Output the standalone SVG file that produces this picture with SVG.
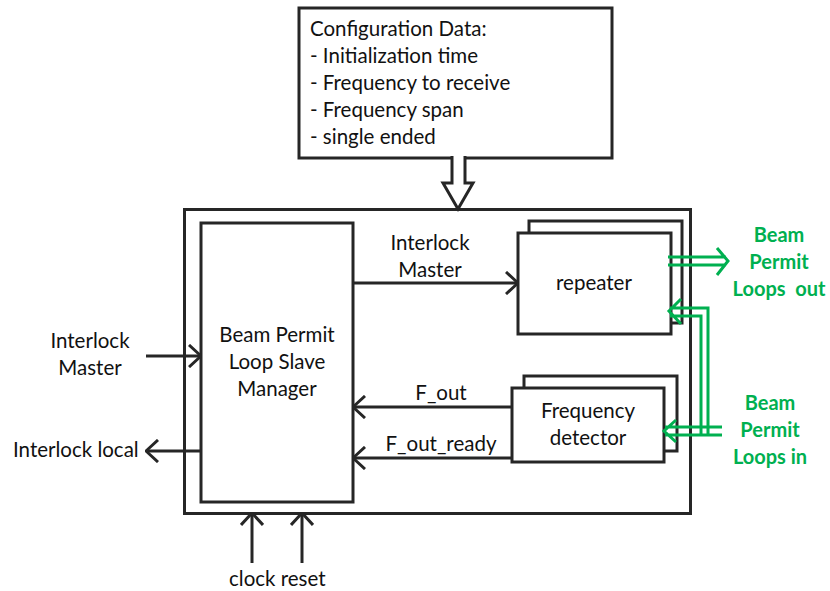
<svg xmlns="http://www.w3.org/2000/svg" width="830" height="591" viewBox="0 0 830 591">
<defs>
<style>
.box{fill:#fff;stroke:#262626;stroke-width:3}
.ln{fill:none;stroke:#262626;stroke-width:3}
.gl{fill:none;stroke:#00B050;stroke-width:3}
.t{font-family:Lato,"Liberation Sans",Arial,sans-serif;font-size:20.5px;fill:#111}
.g{font-family:Lato,"Liberation Sans",Arial,sans-serif;font-size:20px;font-weight:bold;fill:#00B050}
</style>
<marker id="ah" viewBox="0 0 14 24" refX="13" refY="12" markerWidth="14" markerHeight="24" markerUnits="userSpaceOnUse" orient="auto">
<path d="M1,1 L13,12 L1,23" fill="none" stroke="#262626" stroke-width="3"/>
</marker>
</defs>
<rect width="830" height="591" fill="#fff"/>
<g id="outer"><rect class="box" x="184.5" y="209.5" width="506" height="304"/></g>
<g id="config">
<rect class="box" x="299" y="8" width="313" height="150"/>
<path class="box" d="M452,156 V183 H443 L458,209 L473,183 H465 V156" />
<text class="t" x="310" y="36">Configuration Data:</text>
<text class="t" x="310" y="63">- Initialization time</text>
<text class="t" x="310" y="90">- Frequency to receive</text>
<text class="t" x="310" y="117">- Frequency span</text>
<text class="t" x="310" y="144">- single ended</text>
</g>
<g id="manager">
<rect class="box" x="201" y="223" width="152" height="279"/>
<text class="t" x="277" y="342" text-anchor="middle">Beam Permit</text>
<text class="t" x="277" y="369" text-anchor="middle">Loop Slave</text>
<text class="t" x="277" y="396" text-anchor="middle">Manager</text>
</g>
<g id="repeater">
<rect class="box" x="529" y="221" width="153" height="102"/>
<rect class="box" x="518" y="233" width="153" height="101"/>
<text class="t" x="594" y="290" text-anchor="middle">repeater</text>
</g>
<g id="freqdet">
<rect class="box" x="524" y="376" width="153" height="75"/>
<rect class="box" x="512" y="388" width="152" height="74"/>
<text class="t" x="588" y="418" text-anchor="middle">Frequency</text>
<text class="t" x="588" y="445" text-anchor="middle">detector</text>
</g>
<g id="connectors">
<line class="ln" x1="353" y1="283" x2="518" y2="283" marker-end="url(#ah)"/>
<text class="t" x="430" y="250" text-anchor="middle">Interlock</text>
<text class="t" x="430" y="277" text-anchor="middle">Master</text>
<line class="ln" x1="146" y1="356" x2="201" y2="356" marker-end="url(#ah)"/>
<text class="t" x="90" y="348" text-anchor="middle">Interlock</text>
<text class="t" x="90" y="375" text-anchor="middle">Master</text>
<line class="ln" x1="201" y1="451" x2="146" y2="451" marker-end="url(#ah)"/>
<text class="t" x="13" y="457">Interlock local</text>
<line class="ln" x1="512" y1="407" x2="353" y2="407" marker-end="url(#ah)"/>
<text class="t" x="441" y="400" text-anchor="middle">F_out</text>
<line class="ln" x1="512" y1="458" x2="353" y2="458" marker-end="url(#ah)"/>
<text class="t" x="441" y="451" text-anchor="middle">F_out_ready</text>
<line class="ln" x1="252" y1="563" x2="252" y2="513" marker-end="url(#ah)"/>
<line class="ln" x1="302" y1="563" x2="302" y2="513" marker-end="url(#ah)"/>
<text class="t" x="229" y="586">clock reset</text>
<path class="gl" d="M668,257 H726 M668,265 H726 M717,248 L728,261 L717,275"/>
<path class="gl" d="M722,427 H665 M722,435 H665 M676,420 L664,431 L676,442"/>
<path class="gl" d="M708,435 V308 H670 M701,435 V316 H670 M681,299 L669,311 L681,324"/>
<text class="g" x="779" y="242" text-anchor="middle">Beam</text>
<text class="g" x="779" y="269" text-anchor="middle">Permit</text>
<text class="g" x="779" y="296" text-anchor="middle" xml:space="preserve">Loops  out</text>
<text class="g" x="770" y="410" text-anchor="middle">Beam</text>
<text class="g" x="770" y="437" text-anchor="middle">Permit</text>
<text class="g" x="770" y="464" text-anchor="middle">Loops in</text>
</g>
</svg>
